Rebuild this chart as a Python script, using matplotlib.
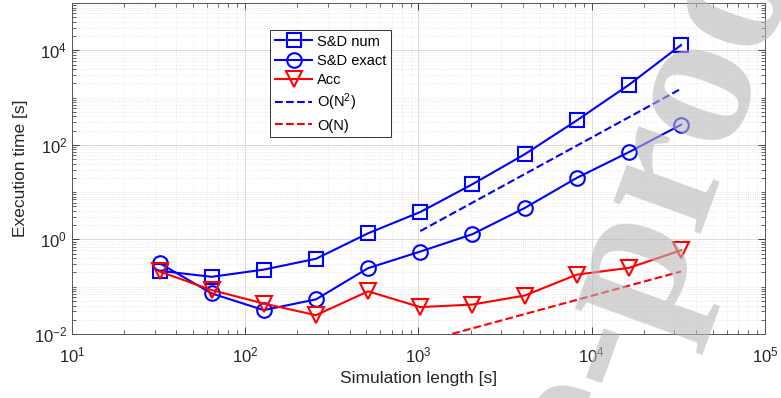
import numpy as np
import matplotlib
matplotlib.use("Agg")
import matplotlib.pyplot as plt
from matplotlib.ticker import LogLocator, NullFormatter, FixedLocator, FuncFormatter

plt.rcParams['font.family'] = ['Liberation Sans', 'DejaVu Sans']
plt.rcParams['mathtext.default'] = 'regular'

# ---- data ----
sim_length = [32, 64, 128, 256, 512, 1024, 2048, 4096, 8192, 16384, 32768]
sd_num = [0.217, 0.162, 0.23, 0.39, 1.35, 3.8, 14.7, 63, 328, 1860, 12900]
sd_exact = [0.315, 0.072, 0.032, 0.054, 0.247, 0.554, 1.29, 4.6, 20, 70, 266]
acc = [0.21, 0.085, 0.044, 0.025, 0.08, 0.037, 0.042, 0.065, 0.18, 0.25, 0.59]
ref_x = [1024, 32768]
ref_n2 = [1.5, 1536]
ref_n = [0.0066, 0.21]

txt = '#262626'
fig = plt.figure(figsize=(7.81, 3.98), dpi=100)
ax = fig.add_axes([0.0922, 0.1608, 0.8873, 0.8317])

ax.plot(sim_length, sd_num, '-s', color='blue', lw=1.5, ms=9.5, mfc='none', mew=1.5, label='S&D num')
ax.plot(sim_length, sd_exact, '-o', color='blue', lw=1.5, ms=10.5, mfc='none', mew=1.5, label='S&D exact')
ax.plot(sim_length, acc, '-v', color='red', lw=1.5, ms=11, mfc='none', mew=1.5, label='Acc')
ax.plot(ref_x, ref_n2, '--', color='blue', lw=1.5, label='O(N$^2$)')
ax.plot(ref_x, ref_n, '--', color='red', lw=1.5, label='O(N)')

ax.set_xscale('log')
ax.set_yscale('log')
ax.set_xlim(10, 1e5)
ax.set_ylim(1e-2, 1e5)

fmt = FuncFormatter(lambda v, p: '$10^{%d}$' % round(np.log10(v)))
ax.xaxis.set_major_locator(FixedLocator([1e1, 1e2, 1e3, 1e4, 1e5]))
ax.xaxis.set_minor_locator(LogLocator(base=10, subs=np.arange(2, 10), numticks=20))
ax.xaxis.set_minor_formatter(NullFormatter())
ax.yaxis.set_major_locator(FixedLocator([1e-2, 1e0, 1e2, 1e4]))
ymin = [m * 10.0**e for e in range(-2, 5) for m in range(1, 10)]
ymin = [v for v in ymin if v not in (1e-2, 1e0, 1e2, 1e4) and v <= 1e5]
ax.yaxis.set_minor_locator(FixedLocator(ymin))
ax.yaxis.set_minor_formatter(NullFormatter())
ax.xaxis.set_major_formatter(fmt)
ax.yaxis.set_major_formatter(fmt)

ax.tick_params(which='both', direction='in', top=True, right=True, colors=txt, labelsize=12)
ax.tick_params(which='major', length=5, width=0.6)
ax.tick_params(which='minor', length=3, width=0.5)
ax.tick_params(axis='x', pad=8)
ax.grid(True, which='major', color='#dcdcdc', lw=0.7, ls='-')
ax.grid(True, which='minor', color='#e4e4e4', lw=0.6, ls=':')
ax.set_axisbelow(True)
for s in ax.spines.values():
    s.set_color('#555555')
    s.set_linewidth(0.7)

ax.set_xlabel('Simulation length [s]', fontsize=12.5, color=txt, labelpad=4)
ax.set_ylabel('Execution time [s]', fontsize=12.5, color=txt, labelpad=4)

leg = ax.legend(loc='upper left', bbox_to_anchor=(0.286, 0.918), fontsize=10.5,
                fancybox=False, edgecolor='#333333', framealpha=1,
                handlelength=2.6, handletextpad=0.3, borderpad=0.3, labelspacing=0.35,
                borderaxespad=0)
leg.get_frame().set_linewidth(0.7)

# watermark (partly visible, diagonal)
wm_kw = dict(fontsize=145, family='Liberation Serif', weight='bold',
             color=(0.72, 0.72, 0.72), alpha=0.6,
             rotation=70, rotation_mode='anchor', va='baseline', zorder=10)
fig.text(660 / 781, 1 - 340 / 398, 'proof', ha='left', **wm_kw)
fig.text(660 / 781, 1 - 340 / 398, 'Journal Pre-', ha='right', **wm_kw)

fig.savefig('out.png', dpi=100)
